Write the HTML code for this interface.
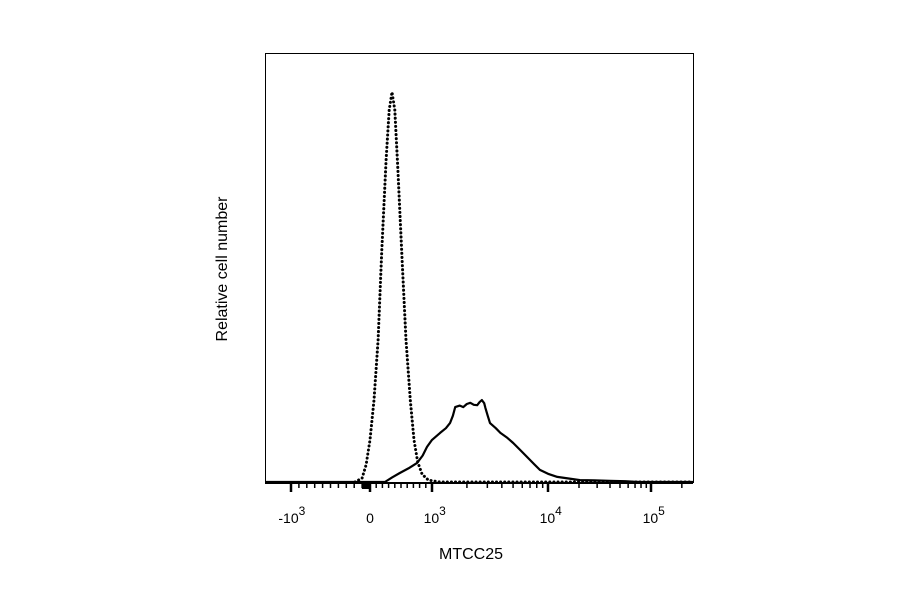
<!DOCTYPE html>
<html><head><meta charset="utf-8"><style>
html,body{margin:0;padding:0;background:#fff;}
svg text{font-family:"Liberation Sans",Arial,sans-serif;fill:#000;}
</style></head><body>
<svg id="chart" width="900" height="594" viewBox="0 0 900 594">
<rect x="265.5" y="53.5" width="428" height="429" fill="none" stroke="#000" stroke-width="1"/>
<g id="ticks"></g>
<g id="series"></g>
<text x="471" y="559" font-size="16" text-anchor="middle">MTCC25</text>
<text transform="translate(227,269) rotate(-90)" font-size="16" text-anchor="middle">Relative cell number</text>
</svg>
<script>
// display units: -1 = -10^3, 0 = 0, 1 = 10^3, 2 = 10^4, 3 = 10^5
const tickUnits = [-1, 0, 1, 2, 3];
const tickBase = ["-10", "0", "10", "10", "10"];
const tickExp = ["3", "", "3", "4", "5"];
const isotypeX = [-0.19,-0.10,-0.05,0,0.065,0.13,0.19,0.26,0.31,0.355,0.40,0.45,0.52,0.58,0.65,0.71,0.77,0.84,0.94,1.07,3.41];
const isotypeY = [0,1,4.4,10.8,21,36.4,59.5,82.6,95.4,100,95.4,80,56.4,36.4,21,10.8,5.1,2,0.5,0,0];
const stainX = [-1.9,0.24,0.36,0.48,0.62,0.76,0.85,0.92,1.0,1.07,1.12,1.155,1.18,1.2,1.24,1.27,1.30,1.33,1.36,1.39,1.41,1.43,1.45,1.46,1.48,1.5,1.55,1.59,1.65,1.70,1.76,1.82,1.88,1.93,2.0,2.09,2.2,2.31,2.45,2.6,2.75,2.89,3.41];
const stainY = [0,0,1.2,2.3,3.5,4.9,6.8,9,10.8,12.6,13.8,15.1,17,19.2,19.6,19.2,20,20.3,19.8,19.7,20.5,21,20.2,19,17,15.1,13.8,12.6,11.3,10,8.2,6.4,4.6,3.1,2.1,1.3,0.9,0.5,0.4,0.3,0.2,0,0];

const NS="http://www.w3.org/2000/svg";
const anchorsU=[-1.9,-1,0,1,2,3,3.41], anchorsP=[265,291,370,432,548,651,693];
function xs(u){for(let i=0;i<anchorsU.length-1;i++){if(u<=anchorsU[i+1]||i==anchorsU.length-2){const t=(u-anchorsU[i])/(anchorsU[i+1]-anchorsU[i]);return anchorsP[i]+t*(anchorsP[i+1]-anchorsP[i]);}}}
function ys(c){return 482-c*3.9;}
const tg=document.getElementById('ticks');
function tick(px,len,w){const l=document.createElementNS(NS,'line');l.setAttribute('x1',px);l.setAttribute('x2',px);l.setAttribute('y1',483);l.setAttribute('y2',483+len);l.setAttribute('stroke','#000');l.setAttribute('stroke-width',w);


tg.appendChild(l);}
const bl=document.createElementNS(NS,'line');bl.setAttribute('x1',265);bl.setAttribute('x2',693);bl.setAttribute('y1',483.5);bl.setAttribute('y2',483.5);bl.setAttribute('stroke','#000');


tg.appendChild(bl);
for(let k=1;k<10;k++){tick(xs(-1+k/10),5,1.5);}
for(let k=1;k<10;k++){tick(xs(-k/100),6,2);}
for(let k=1;k<10;k++){tick(xs(k/10),5,1.5);}
for(let d=1;d<=3;d++){for(let k=2;k<10;k++){const u=d+Math.log10(k);if(u<=3.41)tick(xs(u),5,1.5);}}
tickUnits.forEach((u,i)=>{tick(xs(u),9,2.5);
const t=document.createElementNS(NS,'text');
t.setAttribute('x',tickExp[i]?xs(u)-(tickBase[i].length*4.2):xs(u));
t.setAttribute('y',523);t.setAttribute('font-size','14');t.setAttribute('text-anchor',tickExp[i]?'start':'middle');


t.textContent=tickBase[i];
if(tickExp[i]){const s=document.createElementNS(NS,'tspan');s.setAttribute('dy','-8');s.setAttribute('font-size','12');s.textContent=tickExp[i];t.appendChild(s);}
tg.appendChild(t);});
const sg=document.getElementById('series');
function path(X,Y,dash,w,name){const p=document.createElementNS(NS,'path');
p.setAttribute('d',X.map((x,i)=>(i?'L':'M')+xs(x).toFixed(1)+','+ys(Y[i]).toFixed(1)).join(''));
p.setAttribute('fill','none');p.setAttribute('stroke','#000');p.setAttribute('stroke-width',w);p.setAttribute('stroke-linejoin','round');
if(dash){p.setAttribute('stroke-dasharray',dash);p.setAttribute('stroke-linecap','round');}


sg.appendChild(p);}
path(stainX,stainY,null,2.2,'mtcc25-histogram');
path(isotypeX,isotypeY,'0.1 4',3,'isotype-control-histogram');
</script>
</body></html>
